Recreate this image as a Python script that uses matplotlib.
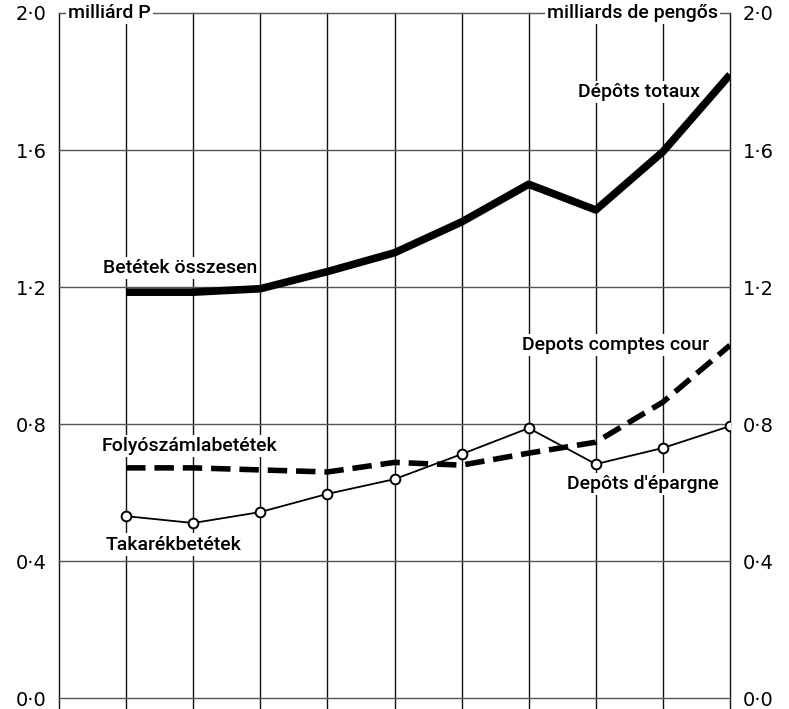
import matplotlib.pyplot as plt
import numpy as np

# years are not labelled in the source, only 10 equally spaced observations
periods = np.arange(1, 11)
total = [1.185, 1.185, 1.195, 1.245, 1.30, 1.39, 1.50, 1.425, 1.595, 1.82]
current = [0.672, 0.672, 0.666, 0.660, 0.688, 0.680, 0.715, 0.747, 0.864, 1.03]
savings = [0.531, 0.511, 0.543, 0.596, 0.639, 0.712, 0.788, 0.683, 0.730, 0.794]

yticks = [0.0, 0.4, 0.8, 1.2, 1.6, 2.0]
ytick_labels = ['0·0', '0·4', '0·8', '1·2', '1·6', '2·0']

label_font = ['Roboto', 'DejaVu Sans']

fig = plt.figure(figsize=(7.89, 7.09), dpi=100)
ax = fig.add_axes([59 / 789, 0, 671 / 789, 696 / 709])
ax.set_xlim(0, 10)
ax.set_ylim(-0.032, 2.0)

# grid
for x in range(0, 11):
    ax.axvline(x, ymax=1.0, color='#111111', lw=1.0, zorder=1, clip_on=False)
for y in yticks:
    ax.axhline(y, color='#555555', lw=1.0, zorder=1, clip_on=False)

for s in ['top', 'bottom', 'left', 'right']:
    ax.spines[s].set_visible(False)

ax.set_xticks([])
ax.set_yticks(yticks)
ax.set_yticklabels(ytick_labels)
ax.tick_params(axis='y', length=0, labelsize=14, labelleft=True, labelright=True)
ax.tick_params(axis='y', which='major', pad=9)

# series
ax.plot(periods, total, color='black', lw=5.5, solid_capstyle='butt', zorder=3)
ax.plot(periods, current, color='black', lw=4, dashes=(3.5, 1.6), zorder=3)
ax.plot(periods, savings, color='black', lw=1.3, marker='o', markersize=7,
        markerfacecolor='white', markeredgecolor='black', markeredgewidth=1.4, zorder=4)

box = dict(facecolor='white', edgecolor='none', pad=1.5)
txt = dict(fontsize=14, family=label_font, weight='medium', ha='center', va='center',
           bbox=box, zorder=2)

ax.text(0.14, 2.0, 'milliárd P', **{**txt, 'ha': 'left'})
ax.text(9.82, 2.0, 'milliards de pengős', **{**txt, 'ha': 'right'})
ax.text(8.65, 1.77, 'Dépôts totaux', **txt)
ax.text(1.8, 1.255, 'Betétek összesen', **txt)
ax.text(8.3, 1.03, 'Depots comptes cour', **txt)
ax.text(1.95, 0.735, 'Folyószámlabetétek', **txt)
ax.text(8.7, 0.625, "Depôts d'épargne", **txt)
ax.text(1.7, 0.448, 'Takarékbetétek', **txt)

fig.savefig('out.png', dpi=100)
